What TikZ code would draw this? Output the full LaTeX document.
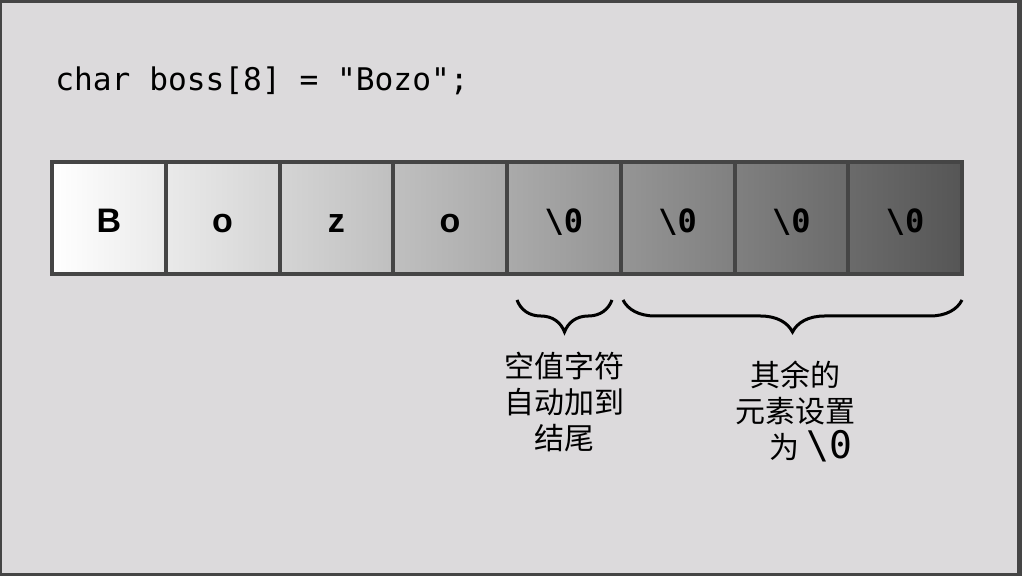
\documentclass[tikz,border=0pt]{standalone}
\usepackage{fontspec}
\setmainfont{Liberation Sans}
\setmonofont{DejaVu Sans Mono}
\newfontfamily\cjk{Noto Sans CJK SC}
\usetikzlibrary{decorations.pathreplacing,shapes.misc}
\definecolor{panel}{HTML}{DCDADC}
\definecolor{frame}{HTML}{454545}
\newcommand{\nul}{\textbackslash0}

\begin{document}
\begin{tikzpicture}[x=0.5pt,y=-0.5pt]
\useasboundingbox (0,0) rectangle (1022,576);
\fill[frame] (0,0) rectangle (1022,576);
\fill[panel] (2,3) rectangle (1017,573);
\node[anchor=base west,inner sep=0pt,font=\ttfamily\fontsize{15.6}{18}\selectfont] (D) at (55,91) {char boss[8] = "Bozo";};
\begin{scope}[every node/.style={rectangle,draw=frame,line width=2pt,
              minimum width=56.875pt,minimum height=56pt,inner sep=0pt,
              text height=15pt,text depth=0pt}]
    \foreach \i/\t in {1/B,2/o,3/z,4/o} {
        \pgfmathsetmacro{\l}{(\i-1)*8.3}
        \pgfmathsetmacro{\r}{\i*8.3}
        \node[left color=black!\l,right color=black!\r,
              font=\bfseries\fontsize{17}{18}\selectfont] (S\i) at (52+113.75*\i-56.875,218) {\t};
    }
    \foreach \i in {5,...,8} {
        \pgfmathsetmacro{\l}{(\i-1)*8.3}
        \pgfmathsetmacro{\r}{\i*8.3}
        \node[left color=black!\l,right color=black!\r,
              font=\ttfamily\bfseries\fontsize{16}{18}\selectfont] (S\i) at (52+113.75*\i-56.875,218) {\nul};
    }
\end{scope}
\coordinate (L1) at (517,300);
\coordinate (R1) at (612,300);
\coordinate (L2) at (623,300);
\coordinate (R2) at (962,300);
\begin{scope}[every path/.style={draw=black,line width=1.5pt,
              decorate,decoration={brace,mirror,amplitude=16pt}}]
    \path (L1) -- (R1);
    \path (L2) -- (R2);
\end{scope}
\begin{scope}[every node/.style={anchor=north,align=center,inner sep=0pt,
              font=\cjk\fontsize{15}{18}\selectfont}]
    \node (N1) at (564,352) {空值字符\\自动加到\\结尾};
    \node (N2) at (795,361) {其余的\\元素设置\\\hspace*{16pt}为 {\ttfamily\fontsize{19}{18}\selectfont\nul}};
\end{scope}
\end{tikzpicture}
\end{document}
